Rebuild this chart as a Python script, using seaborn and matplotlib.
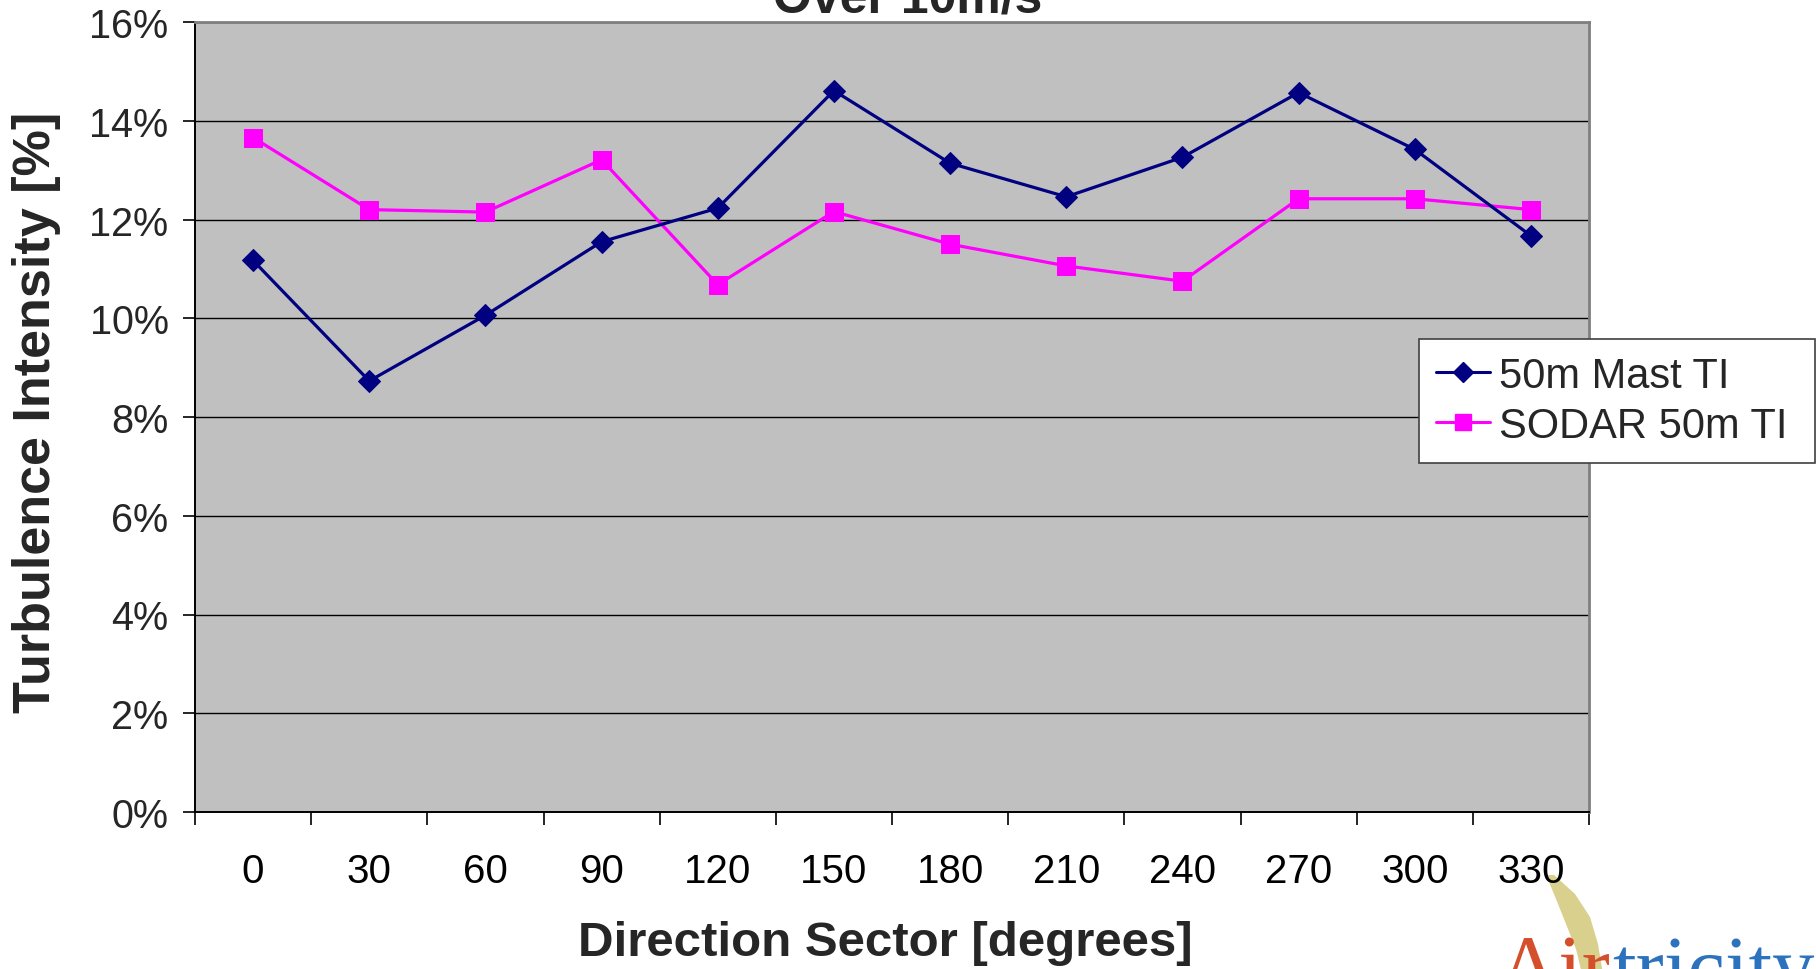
import numpy as np
import pandas as pd
import matplotlib
matplotlib.use("Agg")
import matplotlib.pyplot as plt
from matplotlib.ticker import PercentFormatter, FixedLocator
from matplotlib.patches import PathPatch
from matplotlib.path import Path
from matplotlib.lines import Line2D
import seaborn as sns

# Direction sectors and turbulence intensity (%) for winds over 10 m/s
sectors = [0, 30, 60, 90, 120, 150, 180, 210, 240, 270, 300, 330]
mast_ti = [11.17, 8.73, 10.06, 11.55, 12.23, 14.61, 13.14, 12.46, 13.26, 14.57, 13.42, 11.67]
sodar_ti = [13.66, 12.20, 12.15, 13.21, 10.68, 12.16, 11.50, 11.06, 10.75, 12.42, 12.42, 12.20]
series_names = ["50m Mast TI", "SODAR 50m TI"]
y_ticks = [0, 2, 4, 6, 8, 10, 12, 14, 16]

sns.set_theme(style="white")
plt.rcParams["font.family"] = ["Liberation Sans", "DejaVu Sans"]

df = pd.DataFrame({
    "pos": list(range(len(sectors))) * 2,
    "ti": mast_ti + sodar_ti,
    "series": [series_names[0]] * len(sectors) + [series_names[1]] * len(sectors),
})

W, H = 1816, 970
fig = plt.figure(figsize=(W / 100, H / 100), dpi=100)
ax = fig.add_axes([195 / W, 1 - 813 / H, (1589 - 195) / W, (813 - 23) / H])
ax.set_facecolor("#C0C0C0")

navy = "#000080"
magenta = "#FF00FF"

sns.lineplot(data=df[df.series == series_names[0]], x="pos", y="ti", ax=ax,
             color=navy, marker="D", markersize=11.5, markeredgecolor=navy,
             linewidth=2.3, legend=False, zorder=4)
sns.lineplot(data=df[df.series == series_names[1]], x="pos", y="ti", ax=ax,
             color=magenta, marker="s", markersize=12.5, markeredgecolor=magenta,
             linewidth=2.3, legend=False, zorder=3)

ax.set_xlim(-0.5, len(sectors) - 0.5)
ax.set_ylim(0, 16)
ax.yaxis.set_major_locator(FixedLocator(y_ticks))
ax.yaxis.set_major_formatter(PercentFormatter(xmax=100, decimals=0))
ax.grid(axis="y", color="#000000", linewidth=1.0)
ax.set_axisbelow(True)

# category labels centred, tick marks on the category boundaries
ax.set_xticks(range(len(sectors)))
ax.set_xticklabels([str(s) for s in sectors])
ax.set_xticks(np.arange(-0.5, len(sectors), 1.0), minor=True)
ax.tick_params(axis="x", which="major", length=0, pad=29, labelsize=29, colors="black")
ax.tick_params(axis="x", which="minor", length=9, width=1.2, direction="out", color="black", bottom=True)
ax.tick_params(axis="y", which="major", length=9, width=1.2, direction="out", color="black",
               pad=10, labelsize=28.5, left=True)

for side in ("left", "bottom"):
    ax.spines[side].set_color("black")
    ax.spines[side].set_linewidth(1.4)
for side in ("top", "right"):
    ax.spines[side].set_visible(True)
    ax.spines[side].set_color("#808080")
    ax.spines[side].set_linewidth(2.0)

ax.set_xlabel("Direction Sector [degrees]", fontsize=35.5, fontweight="bold", va="center")
ax.xaxis.set_label_coords((885 - 195) / 1394, -(944 - 813) / 790)
ax.set_ylabel("Turbulence Intensity [%]", fontsize=37.5, fontweight="bold", va="center")
ax.yaxis.set_label_coords(-(158) / 1394, (813 - 412) / 790)

# title, its last line sits at the top edge
fig.text(0.5, 1 - 12 / H, "Over 10m/s", ha="center", va="baseline",
         fontsize=36, fontweight="bold")

handles = [
    Line2D([], [], color=navy, marker="D", markersize=10, linewidth=2.2),
    Line2D([], [], color=magenta, marker="s", markersize=11, linewidth=2.2),
]
leg = fig.legend(handles, series_names, loc="upper left", mode="expand",
                 bbox_to_anchor=(1419 / W, 1 - 340 / H, (1815 - 1419) / W, 0),
                 bbox_transform=fig.transFigure,
                 fontsize=30, frameon=True, fancybox=False, framealpha=1,
                 edgecolor="#404040", facecolor="white", handlelength=1.3,
                 handletextpad=0.2, labelspacing=0.24, borderpad=0.41, borderaxespad=0)
leg.get_frame().set_linewidth(1.2)

# company logo in the lower right corner
def px(x, y):
    return (x / W, 1 - y / H)

left_edge = [(1546, 876), (1556, 900), (1566, 925), (1576, 950), (1582, 975)]
right_edge = [(1603, 975), (1598, 945), (1590, 918), (1575, 895), (1554, 876)]
verts = [px(*p) for p in left_edge + right_edge] + [px(*left_edge[0])]
codes = [Path.MOVETO] + [Path.LINETO] * (len(verts) - 2) + [Path.CLOSEPOLY]
swoosh = PathPatch(Path(verts, codes), transform=fig.transFigure,
                   facecolor="#D9D08E", edgecolor="none", zorder=-1)
fig.patches.append(swoosh)

logo_font = ["Liberation Serif", "DejaVu Serif"]
air = fig.text(1497 / W, 1 - 995 / H, "Air", fontsize=61, color="#D4502C",
               family=logo_font, ha="left", va="baseline", zorder=3)
fig.canvas.draw()
bb = air.get_window_extent()
fig.text(bb.x1 / fig.bbox.width + 2 / W, 1 - 995 / H, "tricity", fontsize=61, color="#2C72BD",
         family=logo_font, ha="left", va="baseline", zorder=3)

fig.savefig("out.png", dpi=100)
